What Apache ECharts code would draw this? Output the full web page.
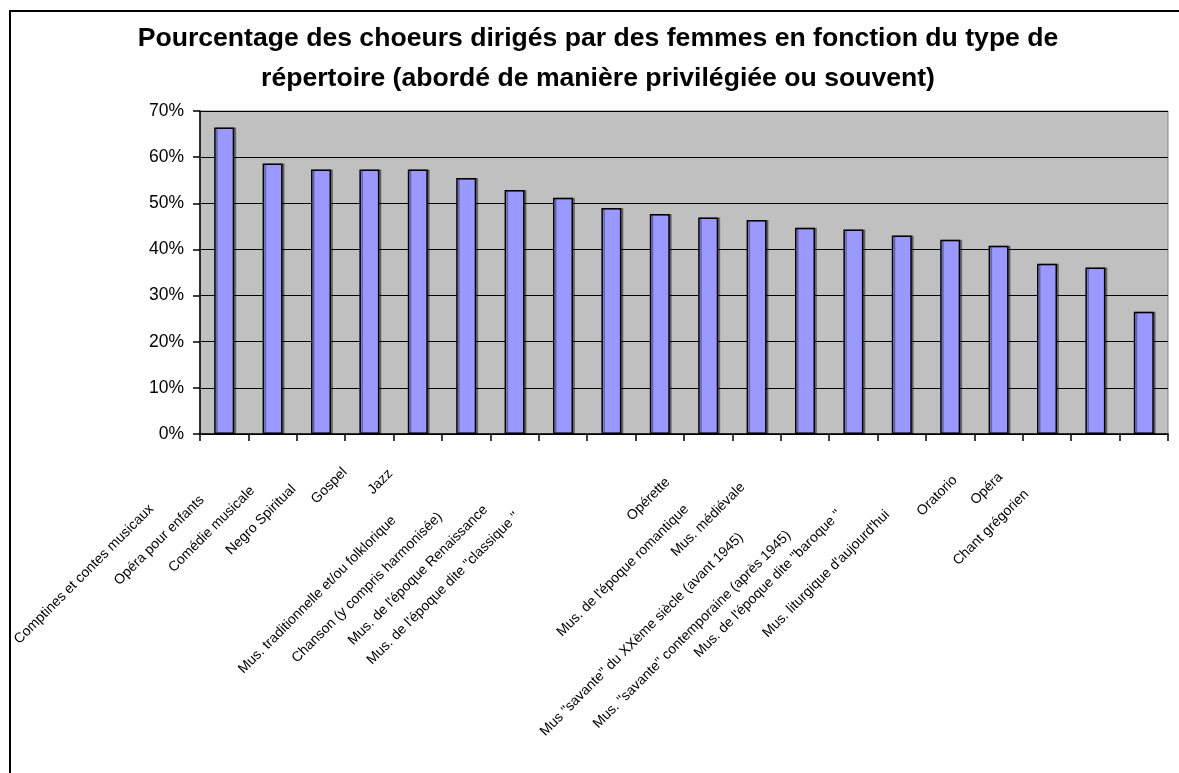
<!DOCTYPE html>
<html>
<head>
<meta charset="utf-8">
<script src="https://cdn.jsdelivr.net/npm/echarts@6/dist/echarts.min.js"></script>
<style>
  html, body { margin: 0; padding: 0; background: #ffffff; }
  #chart { width: 1179px; height: 773px; }
</style>
</head>
<body>
<div id="chart"></div>
<script>
// Repertoire types, ordered by share of choirs led by women
const categories = [
  "Comptines et contes musicaux",
  "Opéra pour enfants",
  "Comédie musicale",
  "Negro Spiritual",
  "Gospel",
  "Jazz",
  "Mus. traditionnelle et/ou folklorique",
  "Chanson (y compris harmonisée)",
  "Mus. de l'époque Renaissance",
  "Mus. de l'époque dite \"classique \"",
  "Opérette",
  "Mus. de l'époque romantique",
  "Mus. médiévale",
  "Mus \"savante\" du XXème siècle (avant 1945)",
  "Mus. \"savante\" contemporaine (après 1945)",
  "Mus. de l'époque dite \"baroque \"",
  "Mus. liturgique d'aujourd'hui",
  "Oratorio",
  "Opéra",
  "Chant grégorien"
];

// Percentage of choirs directed by women
const values = [66.4, 58.6, 57.3, 57.3, 57.3, 55.5, 52.9, 51.2, 49.0, 47.7,
                46.9, 46.4, 44.7, 44.3, 43.0, 42.1, 40.8, 36.9, 36.1, 26.5];

// Value axis ticks
const yTicks = [0, 10, 20, 30, 40, 50, 60, 70];

const titleLines = [
  "Pourcentage des choeurs dirigés par des femmes en fonction du type de",
  "répertoire (abordé de manière privilégiée ou souvent)"
];

// Per-label nudges for the slanted category labels:
// push along the text direction, and lift perpendicular to it
const labelPush = [96, 88, 80, 84, 70, 73, 138, 137, 134, 151,
                   54, 94, 73, 144, 143, 127, 127, 89, 89, 117];
const labelLift = [7, 12, 17, 23, 33, 34, 33, 37, 44, 51,
                   3, 5, 15, 15, 17, 30, 30, 41, 45, 49];

const FONT = "'Liberation Sans', Arial, Helvetica, sans-serif";

const rich = {};
labelPush.forEach((push, i) => {
  const lift = labelLift[i];
  rich['s' + i] = {
    fontFamily: FONT,
    fontSize: 14,
    color: '#000',
    padding: [lift < 0 ? -2 * lift : 0, push, lift > 0 ? 2 * lift : 0, 0]
  };
});

const chart = echarts.init(document.getElementById('chart'), null, { renderer: 'canvas' });

chart.setOption({
  animation: false,
  backgroundColor: '#ffffff',
  title: {
    text: titleLines.join('\n'),
    left: 598,
    top: 19,
    textAlign: 'center',
    padding: 0,
    textStyle: {
      fontFamily: FONT,
      fontSize: 26.6,
      fontWeight: 'bold',
      color: '#000',
      lineHeight: 40
    }
  },
  graphic: [{
    type: 'rect',
    silent: true,
    z: -1,
    shape: { x: 10, y: 11, width: 1300, height: 900 },
    style: { fill: null, stroke: '#000', lineWidth: 2 }
  }],
  grid: {
    left: 200,
    top: 111,
    right: 11,
    bottom: 339,
    containLabel: false,
    outerBoundsMode: 'none',
    show: true,
    backgroundColor: '#C0C0C0',
    borderColor: '#808080',
    borderWidth: 1
  },
  xAxis: {
    type: 'category',
    data: categories,
    boundaryGap: true,
    axisLine: { show: true, lineStyle: { color: '#000', width: 1.5 } },
    axisTick: { show: true, alignWithLabel: false, length: 7, lineStyle: { color: '#000', width: 1.5 } },
    axisLabel: {
      interval: 0,
      rotate: 45,
      margin: 10,
      hideOverlap: false,
      fontFamily: FONT,
      fontSize: 14,
      color: '#000',
      formatter: (value, index) => '{s' + index + '|' + value + '}',
      rich: rich
    },
    splitLine: { show: false }
  },
  yAxis: {
    type: 'value',
    min: yTicks[0],
    max: yTicks[yTicks.length - 1],
    interval: 10,
    axisLine: { show: true, lineStyle: { color: '#000', width: 1.5 } },
    axisTick: { show: true, length: 7, lineStyle: { color: '#000', width: 1.5 } },
    axisLabel: {
      margin: 16,
      fontFamily: FONT,
      fontSize: 17.5,
      color: '#000',
      formatter: '{value}%'
    },
    splitLine: { show: true, lineStyle: { color: '#000', width: 1.2 } }
  },
  series: [{
    type: 'bar',
    data: values,
    barWidth: 20,
    itemStyle: {
      color: '#9999FF',
      borderColor: '#000',
      borderWidth: 1.5,
      shadowColor: 'rgba(0,0,0,0.35)',
      shadowOffsetX: 2,
      shadowOffsetY: 0,
      shadowBlur: 0
    }
  }]
});
</script>
</body>
</html>
